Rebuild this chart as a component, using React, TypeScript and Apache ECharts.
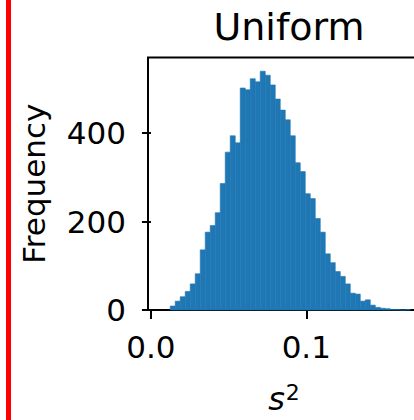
import React, { useEffect, useRef } from "react";
import * as echarts from "echarts";

// Histogram of sample variances (s²), uniform population
const binStart = 0.0124;
const binWidth = 0.00322;
const counts = [
  9, 20, 30, 42, 59, 82, 136, 176, 191, 220,
  286, 357, 394, 378, 502, 498, 523, 516, 540, 531,
  509, 477, 452, 430, 394, 333, 313, 263, 252, 207,
  176, 127, 107, 87, 76, 59, 38, 36, 20, 23,
  11, 6, 4, 3, 1, 1, 0, 1,
];
const xTicks = [0, 0.1];
const yTicks = [0, 200, 400];

const FONT = "DejaVu Sans";
const BAR = "#1f77b4";

export default function App() {
  const ref = useRef<HTMLDivElement>(null);

  useEffect(() => {
    if (!ref.current) return;
    const chart = echarts.init(ref.current, undefined, { renderer: "svg" });

    const data = counts.map((c, i) => [
      binStart + i * binWidth,
      binStart + (i + 1) * binWidth,
      c,
    ]);

    chart.setOption({
      animation: false,
      backgroundColor: "#ffffff",
      title: {
        text: "Uniform",
        left: 284,
        textAlign: "center",
        top: 3,
        textStyle: {
          fontFamily: FONT,
          fontSize: 38,
          fontWeight: "normal",
          color: "#000000",
        },
      },
      grid: {
        left: 148,
        right: 2,
        top: 57.5,
        bottom: 99.5,
        show: true,
        borderColor: "#000000",
        borderWidth: 2,
        backgroundColor: "transparent",
      },
      xAxis: {
        type: "value",
        min: -0.0019,
        max: 0.1732,
        name: "{a|s}{b|2}",
        nameLocation: "middle",
        nameGap: 71,
        nameTextStyle: {
          rich: {
            a: { fontFamily: FONT, fontStyle: "italic", fontSize: 32, color: "#000" },
            b: { fontFamily: FONT, fontSize: 22, color: "#000", verticalAlign: "top", padding: [0, 0, 14, 1] },
          },
        },
        axisLine: { show: false },
        splitLine: { show: false },
        axisTick: {
          show: true,
          length: 9,
          customValues: xTicks,
          lineStyle: { color: "#000", width: 2 },
        },
        axisLabel: {
          customValues: xTicks,
          margin: 21,
          fontFamily: FONT,
          fontSize: 31,
          color: "#000",
          formatter: (v: number) => v.toFixed(1),
        },
      },
      yAxis: {
        type: "value",
        min: 0,
        max: 571,
        name: "Frequency",
        nameLocation: "middle",
        nameGap: 99,
        nameTextStyle: { fontFamily: FONT, fontSize: 31, color: "#000" },
        axisLine: { show: false },
        splitLine: { show: false },
        axisTick: {
          show: true,
          length: 9,
          customValues: yTicks,
          lineStyle: { color: "#000", width: 2 },
        },
        axisLabel: {
          customValues: yTicks,
          margin: 22,
          fontFamily: FONT,
          fontSize: 31,
          color: "#000",
        },
      },
      graphic: [
        {
          type: "rect",
          left: 6,
          top: 0,
          shape: { width: 5, height: 420 },
          style: { fill: "#ff0000" },
        },
      ],
      series: [
        {
          type: "custom",
          data,
          encode: { x: [0, 1], y: 2 },
          renderItem: (params: any, api: any) => {
            const p0 = api.coord([api.value(0), api.value(2)]);
            const p1 = api.coord([api.value(1), 0]);
            return {
              type: "rect",
              shape: { x: p0[0], y: p0[1], width: p1[0] - p0[0], height: p1[1] - p0[1] },
              style: { fill: BAR, stroke: BAR, lineWidth: 0.6 },
            };
          },
        },
      ],
    });

    return () => chart.dispose();
  }, []);

  return (
    <div
      style={{
        position: "fixed",
        left: 0,
        top: 0,
        width: 414,
        height: 420,
        overflow: "hidden",
        background: "#fff",
      }}
    >
      <div ref={ref} style={{ width: 422, height: 420 }} />
    </div>
  );
}
